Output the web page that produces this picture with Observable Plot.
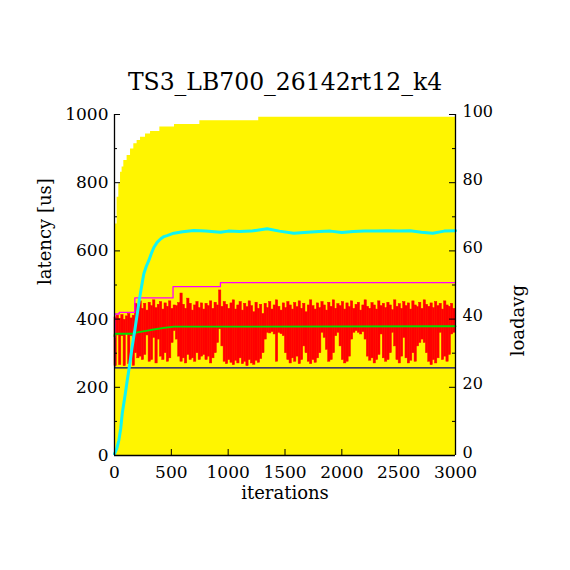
<!DOCTYPE html>
<html><head><meta charset="utf-8">
<script src="https://cdn.jsdelivr.net/npm/d3@7"></script>
<script src="https://cdn.jsdelivr.net/npm/@observablehq/plot@0.6"></script>
<style>body{margin:0;background:#fff}</style>
</head><body><div id="chart"></div>
<script>
const title = "TS3_LB700_26142rt12_k4";
const xLabel = "iterations";
const yLabel = "latency [us]";
const y2Label = "loadavg";
const xDomain = [0, 3000];
const yDomain = [0, 1000];
const xTicks = [0, 500, 1000, 1500, 2000, 2500, 3000];
const yTicks = [0, 200, 400, 600, 800, 1000];
const yMinorTicks = [100, 300, 500, 700, 900];
const y2TickLabels = [0, 20, 40, 60, 80, 100];

// latency samples, per 20-iteration bin: low and high envelope
const binSize = 20;
const latLo = [
  262,352,265,350,262,355,268,350,263,
  300,285,290,280,295,
  352,275,
  280,345,270,340,
  290,280,300,275,285,
  330,365,340,
  290,275,285,270,295,280,
  285,275,300,280,290,
  295,280,290,270,285,300,
  330,370,320,
  275,268,280,272,265,278,270,285,268,275,262,280,270,266,278,272,283,300,
  340,360,358,362,355,275,360,356,350,
  300,280,270,285,275,290,268,280,
  320,300,
  275,268,280,272,285,300,
  360,345,310,
  275,280,300,
  350,360,320,
  280,270,275,290,
  340,360,365,360,355,362,340,
  290,278,285,270,280,295,
  355,
  285,275,280,300,
  360,320,
  280,270,290,
  345,
  285,270,278,300,275,320,
  330,340,330,300,
  275,265,280,270,285,
  360,
  280,290,275,295,
  355,360
];
const latHi = [
  405,410,400,412,398,408,415,402,410,
  445,
  440,452,430,445,425,448,438,455,432,442,
  450,428,446,436,452,430,440,438,447,475,
  442,430,460,445,425,440,450,432,446,428,
  445,438,452,430,448,440,484,436,450,442,
  430,446,455,428,440,450,425,445,435,452,
  438,420,448,430,442,415,445,432,450,428,
  440,455,436,425,446,432,450,440,428,447,
  435,452,430,445,420,440,455,438,428,446,
  432,450,440,425,448,436,455,430,444,438,
  450,428,446,435,452,430,442,448,425,440,
  455,436,430,447,440,428,452,438,445,432,
  448,440,426,455,436,444,430,450,438,446,
  428,452,440,435,448,430,455,442,436,446,
  432,450,438,445,428,452,440,436,445,430
];

// yellow stepped curve (latency scale)
const histIter = [0, 9, 23, 38, 53, 67, 82, 111, 141, 170, 199, 229, 273, 317, 399, 528, 751, 1269, 3000];
const histVal  = [630, 679, 757, 797, 831, 846, 865, 880, 899, 914, 924, 933, 943, 950, 963, 971, 982, 992, 992];

// max latency (step)
const maxIter = [0, 2, 41, 179, 515, 932, 3000];
const maxVal  = [346, 415, 420, 462, 495, 507, 507];

// average latency
const avgIter = [0, 2, 150, 170, 200, 317, 434, 522, 800, 3000];
const avgVal  = [350, 357, 357, 358, 361, 368, 374, 378, 378, 379];

// min latency (step)
const minIter = [0, 2, 3000];
const minVal  = [350, 257, 257];

// loadavg (right axis)
const loadIter = [0, 20, 38, 55, 68, 90, 112, 135, 155, 180, 200, 220, 243, 258, 280, 302, 325, 346, 375, 405, 435, 463, 522, 600, 698, 800, 933, 1000, 1100, 1200, 1343, 1450, 1577, 1700, 1800, 1900, 2000, 2100, 2200, 2300, 2400, 2500, 2600, 2700, 2800, 2900, 3000];
const loadVal  = [0.5, 2, 4.4, 8, 12.3, 17, 22, 27, 31.8, 37, 41.5, 46, 50.5, 53.3, 55.5, 57.2, 59.3, 61, 62.5, 63.5, 64.2, 64.5, 65.2, 65.6, 66, 65.8, 65.5, 65.8, 65.7, 65.8, 66.5, 65.8, 65.2, 65.5, 65.7, 65.8, 65.4, 65.7, 65.8, 65.8, 65.9, 65.8, 65.9, 65.5, 65.2, 65.8, 65.9];

const y2Ratio = yTicks[yTicks.length - 1] / y2TickLabels[y2TickLabels.length - 1];

const bins = latLo.map((lo, i) => ({x1: i * binSize, x2: (i + 1) * binSize, lo, hi: latHi[i]}));
const hist = histIter.map((x, i) => ({x, y: histVal[i]}));
const maxD = maxIter.map((x, i) => ({x, y: maxVal[i]}));
const avgD = avgIter.map((x, i) => ({x, y: avgVal[i]}));
const minD = minIter.map((x, i) => ({x, y: minVal[i]}));
const loadD = loadIter.map((x, i) => ({x, y: loadVal[i]}));

const font = "DejaVu Serif";
const chart = Plot.plot({
  width: 570, height: 570,
  marginTop: 114, marginRight: 115, marginBottom: 115, marginLeft: 114,
  style: {fontFamily: font, fontSize: "17px", color: "#000", background: "#fff"},
  x: {domain: xDomain},
  y: {domain: yDomain},
  marks: [
    Plot.areaY(hist, {x: "x", y: "y", curve: "step-after", fill: "#fff500"}),
    Plot.rect(bins, {x1: "x1", x2: "x2", y1: "lo", y2: "hi", fill: "#ff0000", stroke: "#ff0000", strokeWidth: 0.5}),
    Plot.line(maxD, {x: "x", y: "y", curve: "step-after", stroke: "#ff00ff", strokeWidth: 1.3}),
    Plot.line(avgD, {x: "x", y: "y", stroke: "#00e000", strokeWidth: 1.8}),
    Plot.line(minD, {x: "x", y: "y", curve: "step-after", stroke: "#000080", strokeWidth: 1.2}),
    Plot.line(loadD, {x: "x", y: d => d.y * y2Ratio, stroke: "#10f4f4", strokeWidth: 3}),
    Plot.ruleX(xDomain, {stroke: "#000", strokeWidth: 1.3}),
    Plot.ruleY([yDomain[0]], {stroke: "#000", strokeWidth: 1.3}),
    Plot.tickY(yTicks, {y: d => d, insetRight: 335, stroke: "#000"}),
    Plot.tickY(yMinorTicks, {y: d => d, insetRight: 338, stroke: "#000"}),
    Plot.tickY(yTicks, {y: d => d, insetLeft: 335, stroke: "#000"}),
    Plot.tickY(yMinorTicks, {y: d => d, insetLeft: 338, stroke: "#000"}),
    Plot.tickX(xTicks, {x: d => d, insetTop: 335, stroke: "#000"}),
    Plot.axisX(xTicks, {tickSize: 0, tickPadding: 10.5, label: null, fontSize: 17, tickFormat: d => String(d)}),
    Plot.axisY(yTicks, {anchor: "left", tickSize: 0, tickPadding: 6, label: null, fontSize: 17, tickFormat: d => String(d)}),
    Plot.axisY(yTicks, {anchor: "right", tickSize: 0, tickPadding: 7, dy: -3, label: null, fontSize: 16,
      tickFormat: d => String(y2TickLabels[yTicks.indexOf(d)])}),
    Plot.text([title], {frameAnchor: "top", dy: -25, lineAnchor: "bottom", fontSize: 23.5}),
    Plot.text([xLabel], {frameAnchor: "bottom", dy: 43, lineAnchor: "bottom", fontSize: 18}),
    Plot.text([yLabel], {frameAnchor: "left", dx: -69, rotate: -90, fontSize: 18}),
    Plot.text([y2Label], {frameAnchor: "right", dx: 63, rotate: -90, fontSize: 18})
  ]
});
document.getElementById("chart").appendChild(chart);
</script>
</body></html>
